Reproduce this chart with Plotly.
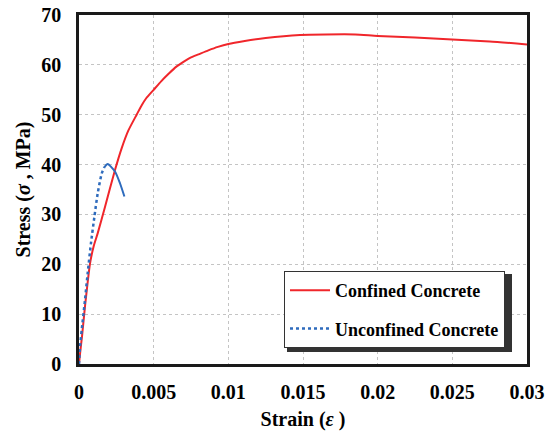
import plotly.graph_objects as go

# stress-strain data
conf_strain = [0, 0.00007, 0.0002, 0.0004, 0.00074, 0.001, 0.00125, 0.00174, 0.00241,
               0.00286, 0.0033, 0.00386, 0.0042, 0.0045, 0.005, 0.0055, 0.006, 0.0065,
               0.0071, 0.0075, 0.008, 0.00866, 0.0093, 0.01, 0.0111,
               0.0125, 0.0148, 0.0165, 0.0185, 0.02, 0.0225, 0.025, 0.0275, 0.03]
conf_stress = [0, 2.1, 5.5, 11.5, 20.2, 23.8, 26.2, 31.5, 38.9,
               43.3, 46.8, 50.0, 51.9, 53.3, 55.0, 56.7, 58.2, 59.6,
               60.8, 61.5, 62.1, 62.9, 63.6, 64.2, 64.8,
               65.4, 66.0, 66.1, 66.1, 65.8, 65.5, 65.1, 64.7, 64.1]

unconf_strain = [0, 0.00007, 0.00018, 0.0004, 0.00058, 0.0008, 0.00103, 0.00125, 0.00152,
                 0.0017, 0.00192, 0.00241, 0.00275, 0.00304]
unconf_stress = [0, 3.5, 6.8, 12.8, 18.2, 24.2, 29.5, 34.2, 38.2,
                 39.5, 40.1, 38.6, 36.2, 33.6]
split = 9  # dotted up to here, solid afterwards

x_ticks = [0, 0.005, 0.01, 0.015, 0.02, 0.025, 0.03]
x_tick_labels = ["0", "0.005", "0.01", "0.015", "0.02", "0.025", "0.03"]
y_ticks = [0, 10, 20, 30, 40, 50, 60, 70]

serif = "Liberation Serif"
red = "#f0262b"
blue = "#2e6bbd"

fig = go.Figure()
fig.add_trace(go.Scatter(x=conf_strain, y=conf_stress, mode="lines",
                         line=dict(color=red, width=2, shape="spline", smoothing=0.6),
                         name="Confined Concrete", legendgroup="a"))
fig.add_trace(go.Scatter(x=unconf_strain[:split + 1], y=unconf_stress[:split + 1], mode="lines",
                         line=dict(color=blue, width=2.5, dash="dot", shape="spline", smoothing=0.6),
                         name="Unconfined Concrete", legendgroup="b"))
fig.add_trace(go.Scatter(x=unconf_strain[split:], y=unconf_stress[split:], mode="lines",
                         line=dict(color=blue, width=2, shape="spline", smoothing=0.6),
                         showlegend=False, legendgroup="b"))

# legend drop shadow (legend box spans ~284..509 x 271..349 px)
fig.add_shape(type="rect", xref="paper", yref="paper",
              x0=(287 - 79) / 448, x1=(512 - 79) / 448,
              y0=(364 - 352) / 349, y1=(364 - 274) / 349,
              fillcolor="#333333", line=dict(width=0), layer="above")

axis_common = dict(
    showgrid=True, gridcolor="#c4c4c4", griddash="3px,3px", gridwidth=1,
    showline=True, linecolor="#1a1a1a", linewidth=2.5, mirror=True,
    ticks="outside", tickcolor="rgba(0,0,0,0)",
    tickfont=dict(family=serif, size=20, weight="bold"), zeroline=False,
    automargin=False, ticklabeloverflow="allow",
)

fig.update_layout(
    width=555, height=435,
    margin=dict(l=79, r=28, t=15, b=71),
    paper_bgcolor="white", plot_bgcolor="white",
    font=dict(family=serif, size=18, color="black"),
    showlegend=True,
    legend=dict(x=(284 - 79) / 448, y=(364 - 271) / 349, xanchor="left", yanchor="top",
                bgcolor="white", bordercolor="#333333", borderwidth=1,
                font=dict(family=serif, size=18, weight="bold"),
                traceorder="grouped", tracegroupgap=12, itemwidth=40),
    xaxis=dict(axis_common, range=[0, 0.03], tickvals=x_ticks, ticktext=x_tick_labels,
               ticklen=8,
               title=dict(text="Strain (<i>ε</i> )", standoff=11,
                          font=dict(family=serif, size=20, weight="bold"))),
    yaxis=dict(axis_common, range=[0, 70], tickvals=y_ticks, ticklen=11,
               title=dict(text="Stress (<i>σ</i> , MPa)", standoff=6,
                          font=dict(family=serif, size=20, weight="bold"))),
)

# drop the default 8px page margin so the figure fills the window
fig.write_html("out.html", config={"displayModeBar": False},
               post_script="document.body.style.margin='0';")
